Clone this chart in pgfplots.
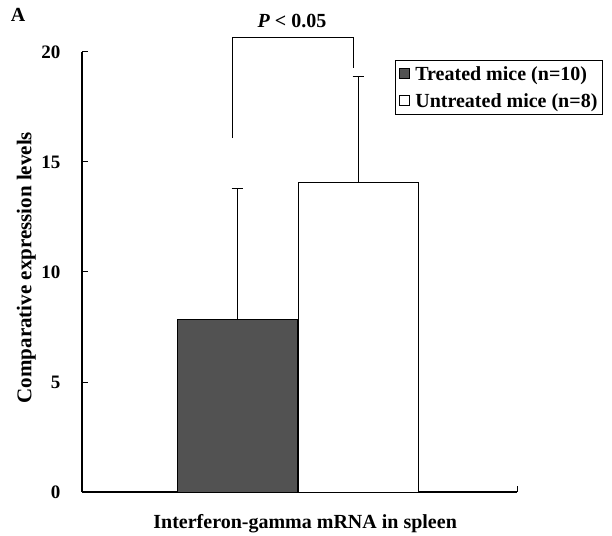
\documentclass[border=0pt]{standalone}
\usepackage{fontspec}
\setmainfont{Liberation Serif}
\usepackage{pgfplots}
\usepackage{pgfplotstable}
\pgfplotsset{compat=1.18}

% bar centre (px from y axis), mean, upper error
\pgfplotstableread{
x y err
155 7.82 5.98
}\treated
\pgfplotstableread{
x y err
276 14.09 4.81
}\untreated

\newcommand{\lab}{\fontsize{20bp}{23bp}\selectfont\bfseries}

\begin{document}
\begin{tikzpicture}[font=\bfseries]
\begin{axis}[
  scale only axis,
  width=435bp, height=440bp,
  xmin=0, xmax=435, ymin=0, ymax=20,
  axis lines*=left,
  axis line style={line width=1.1bp},
  clip=false,
  ytick={0,5,10,15,20},
  xtick={435}, xticklabels={},
  tick align=inside,
  major tick length=6bp,
  tick style={line width=1bp, black},
  /pgf/number format/assume math mode=true,
  tick label style={font=\fontsize{19bp}{22bp}\selectfont\bfseries},
  yticklabel style={xshift=-18bp},
  ylabel={Comparative expression levels},
  xlabel={Interferon-gamma mRNA in spleen},
  label style={font=\lab},
  ylabel style={at={(axis description cs:-0.128,0.51)}, anchor=center,
    font=\fontsize{21bp}{24bp}\selectfont\bfseries},
  xlabel style={at={(axis description cs:0.513,0)}, anchor=north, yshift=-19bp},
  legend style={at={(axis cs:313,19.65)}, anchor=north west, draw=black,
    line width=1bp, font=\lab, inner xsep=3bp, inner ysep=4bp,
    row sep=8bp, cells={anchor=west}},
  legend image code/.code={
    \draw[#1, line width=0.7bp] (1bp,-4bp) rectangle (11bp,6bp);
    \path (15bp,0bp);},
]
\addplot[ybar, bar width=120, bar shift=0pt, fill=black!68, draw=black, line width=1bp,
  error bars/.cd, y dir=plus, y explicit,
  error bar style={line width=1bp, black},
  error mark options={rotate=90, mark size=5.5bp, line width=1bp}]
  table[x=x, y=y, y error=err] {\treated};
\addplot[ybar, bar width=120, bar shift=0pt, fill=white, draw=black, line width=1bp,
  error bars/.cd, y dir=plus, y explicit,
  error bar style={line width=1bp, black},
  error mark options={rotate=90, mark size=5.5bp, line width=1bp}]
  table[x=x, y=y, y error=err] {\untreated};
% significance bracket
\addplot[black, line width=1bp, forget plot, mark=none] coordinates {
  (150,16.09) (150,20.68) (271,20.68) (271,19.27)};
\legend{Treated mice (n=10), Untreated mice (n=8)}
\node[anchor=base, font=\lab] at (axis cs:210,21.1) {\itshape P\/ \upshape< 0.05};
\node[font=\lab] at (axis cs:-64,21.7) {A};
\coordinate (bl) at (axis cs:-82,-1.955);
\coordinate (tr) at (axis cs:530,22.364);
\end{axis}
\pgfresetboundingbox
\useasboundingbox (bl) rectangle (tr);
\end{tikzpicture}
\end{document}
